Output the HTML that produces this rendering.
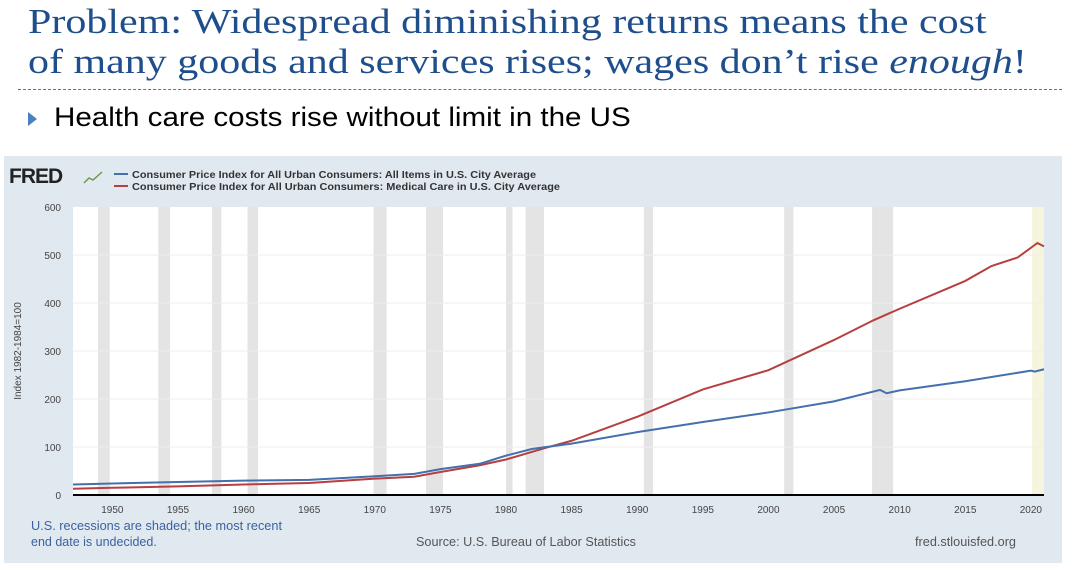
<!DOCTYPE html>
<html><head><meta charset="utf-8"><style>
body{margin:0;width:1074px;height:570px;background:#fff;overflow:hidden;position:relative;font-family:"Liberation Sans",sans-serif}
.t{position:absolute;left:28px;font-family:"Liberation Serif",serif;font-size:35px;color:#1f4e8c;white-space:nowrap;line-height:40px;transform:scaleX(1.2);transform-origin:0 0}
</style></head><body>
<div class="t" style="top:2px">Problem: Widespread diminishing returns means the cost</div>
<div class="t" style="top:42px">of many goods and services rises; wages don’t rise <i>enough</i>!</div>
<div style="position:absolute;left:18px;top:89px;width:1044px;border-top:1px dashed #c05050"></div>
<div style="position:absolute;left:28px;top:112px;width:0;height:0;border-left:9px solid #4a7fc0;border-top:7px solid transparent;border-bottom:7px solid transparent"></div>
<div style="position:absolute;left:54px;top:102px;font-size:27px;color:#000;white-space:nowrap;transform:scaleX(1.095);transform-origin:0 0">Health care costs rise without limit in the US</div>
<svg id="c" width="1074" height="570" style="position:absolute;left:0;top:0"></svg>
<script>
const years=[1947,1950,1955,1960,1965,1970,1973,1975,1978,1980,1982,1985,1990,1995,2000,2005,2008.5,2009,2010,2015,2020,2020.3,2021];
const cpiAll=[22,24,27,30,31.5,39,44,54,65,82,96,107,131,152,172,195,219,212,218,237,259,257,262];
const yearsMed=[1947,1950,1955,1960,1965,1970,1973,1975,1978,1980,1983,1985,1990,1995,2000,2005,2008,2010,2015,2017,2019,2020.5,2021];
const cpiMed=[13,15,18,22,25,34,38,48,62,74,98,113,163,220,260,323,364,388,446,477,495,525,518];
const recessions=[[1948.9,1949.8],[1953.5,1954.4],[1957.6,1958.3],[1960.3,1961.1],[1969.9,1970.9],[1973.9,1975.2],[1980.0,1980.5],[1981.5,1982.9],[1990.5,1991.2],[2001.2,2001.9],[2007.9,2009.5]];
const openRecession=[2020.1,2021];
const yTicks=[0,100,200,300,400,500,600];
const xTicks=[1950,1955,1960,1965,1970,1975,1980,1985,1990,1995,2000,2005,2010,2015,2020];
const NS='http://www.w3.org/2000/svg',svg=document.getElementById('c');
const L=73,R=1044,T=207,B=495;
const x=v=>L+(v-1947)/(2021-1947)*(R-L);
const y=v=>B-v/600*(B-T);
function el(t,a,p){const e=document.createElementNS(NS,t);for(const k in a)e.setAttribute(k,a[k]);(p||svg).appendChild(e);return e;}
let e=el('rect',{x:4,y:156,width:1058,height:407,fill:'#e1e9f0'});

e=el('rect',{x:L,y:T,width:R-L,height:B-T,fill:'#fff'});

recessions.forEach(r=>{const s=el('rect',{x:x(r[0]),y:T,width:x(r[1])-x(r[0]),height:B-T,fill:'#e4e4e4'});
});
e=el('rect',{x:x(openRecession[0]),y:T,width:x(openRecession[1])-x(openRecession[0]),height:B-T,fill:'#f6f4dc'});

yTicks.forEach(v=>{if(v>0&&v<600){const g=el('line',{x1:L,x2:R,y1:y(v),y2:y(v),stroke:'#eeeeee','stroke-width':1});
}
const t=el('text',{x:L-12,y:y(v)+4,'text-anchor':'end','font-size':10,fill:'#444'});t.textContent=v;
});
xTicks.forEach(v=>{const t=el('text',{x:x(v),y:513,'text-anchor':'middle','font-size':10,fill:'#444'});t.textContent=v;
});
e=el('line',{x1:L,x2:R,y1:B,y2:B,stroke:'#000','stroke-width':2});

function line(xs,vs,c,n){const p=el('polyline',{points:xs.map((v,i)=>x(v)+','+y(vs[i])).join(' '),fill:'none',stroke:c,'stroke-width':2});
}
line(yearsMed,cpiMed,'#b5403f','medical-care-line');
line(years,cpiAll,'#4470ad','all-items-line');
e=el('text',{x:21,y:351,'text-anchor':'middle','font-size':10,fill:'#444',transform:'rotate(-90 21 351)'});e.textContent='Index 1982-1984=100';

e=el('text',{x:9,y:183,'font-size':21,'font-weight':'bold',fill:'#222','letter-spacing':'-1'});e.textContent='FRED';

e=el('polyline',{points:'84,183 89,178 93,180 102,172',fill:'none',stroke:'#6a9a4a','stroke-width':1.5});

[['#4470ad','Consumer Price Index for All Urban Consumers: All Items in U.S. City Average',178,'legend-entry-all-items',404],
 ['#b5403f','Consumer Price Index for All Urban Consumers: Medical Care in U.S. City Average',190,'legend-entry-medical',428]].forEach(a=>{
const g=el('g',{});
el('line',{x1:114,x2:128,y1:a[2]-4,y2:a[2]-4,stroke:a[0],'stroke-width':2},g);
const t=el('text',{x:132,y:a[2],'font-size':10.5,'font-weight':'bold',fill:'#333',textLength:a[4],lengthAdjust:'spacingAndGlyphs'},g);t.textContent=a[1];});
e=el('text',{x:31,y:530,'font-size':12.5,fill:'#3a62a0',textLength:251,lengthAdjust:'spacingAndGlyphs'});e.textContent='U.S. recessions are shaded; the most recent';

e=el('text',{x:31,y:546,'font-size':12.5,fill:'#3a62a0'});e.textContent='end date is undecided.';

e=el('text',{x:416,y:546,'font-size':12.5,fill:'#555',textLength:220,lengthAdjust:'spacingAndGlyphs'});e.textContent='Source: U.S. Bureau of Labor Statistics';

e=el('text',{x:915,y:546,'font-size':12.5,fill:'#555',textLength:101,lengthAdjust:'spacingAndGlyphs'});e.textContent='fred.stlouisfed.org';

</script>
</body></html>
